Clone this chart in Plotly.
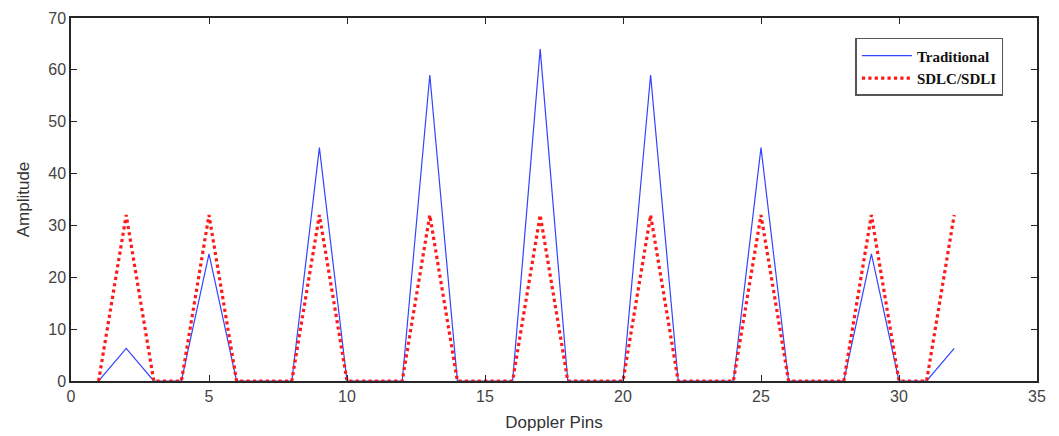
import plotly.graph_objects as go

doppler_pins = list(range(1, 33))
traditional = [0, 6.3, 0, 0, 24.5, 0, 0, 0, 45, 0, 0, 0, 59, 0, 0, 0,
               64, 0, 0, 0, 59, 0, 0, 0, 45, 0, 0, 0, 24.5, 0, 0, 6.3]
sdlc_sdli = [0, 32, 0, 0, 32, 0, 0, 0, 32, 0, 0, 0, 32, 0, 0, 0,
             32, 0, 0, 0, 32, 0, 0, 0, 32, 0, 0, 0, 32, 0, 0, 32]
x_ticks = [0, 5, 10, 15, 20, 25, 30, 35]
y_ticks = [0, 10, 20, 30, 40, 50, 60, 70]

fig = go.Figure()
fig.add_trace(go.Scatter(x=doppler_pins, y=traditional, mode="lines", name="Traditional",
                         line=dict(color="#3344ff", width=1.2)))
fig.add_trace(go.Scatter(x=doppler_pins, y=sdlc_sdli, mode="lines", name="SDLC/SDLI",
                         line=dict(color="#ff1a1a", width=3.2, dash="dot")))

axis_common = dict(showgrid=False, zeroline=False, showline=True, linecolor="#262626",
                   linewidth=1.5, mirror="ticks", ticks="inside", ticklen=6, automargin=False,
                   tickcolor="#262626", tickfont=dict(family="Arial", size=16, color="#444444"))
fig.update_xaxes(range=[0, 35], tickvals=x_ticks, title=dict(text="Doppler Pins",
                 font=dict(family="Arial", size=17, color="#333333"), standoff=12), **axis_common)
fig.update_yaxes(range=[0, 70], tickvals=y_ticks, title=dict(text="Amplitude",
                 font=dict(family="Arial", size=17, color="#333333"), standoff=14), **axis_common)

fig.update_layout(
    width=1059, height=436,
    margin=dict(l=71, r=22, t=18, b=55),
    plot_bgcolor="white", paper_bgcolor="white",
    showlegend=True,
    legend=dict(x=0.812, y=0.945, xanchor="left", yanchor="top",
                bgcolor="white", bordercolor="#555555", borderwidth=1.5,
                font=dict(family="Liberation Serif", size=15, color="#111111", weight="bold"),
                tracegroupgap=0, itemwidth=50),
)
fig.write_html("out.html")
